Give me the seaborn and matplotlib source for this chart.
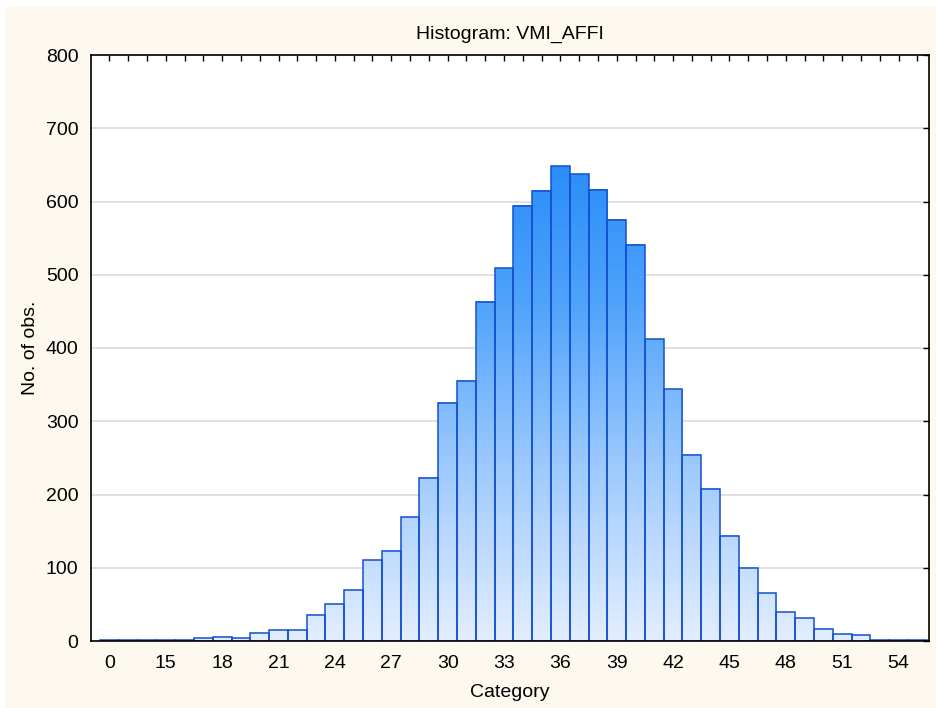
import numpy as np
import pandas as pd
import seaborn as sns
import matplotlib.pyplot as plt
from matplotlib.colors import LinearSegmentedColormap
from matplotlib.patches import Rectangle

# --- data ---
categories = ["0"] + [str(v) for v in range(13, 56)]
counts = [2, 1, 1, 1, 2, 4, 6, 4, 11, 15, 15, 36, 51, 70, 110, 123, 169, 223,
          325, 355, 463, 509, 594, 615, 648, 637, 616, 575, 541, 412, 344,
          254, 208, 144, 99, 65, 39, 31, 17, 9, 8, 2, 1, 2]
shown_labels = ["0", "15", "18", "21", "24", "27", "30", "33", "36", "39",
                "42", "45", "48", "51", "54"]

df = pd.DataFrame({"Category": categories, "Count": counts})

sns.set_style("white")
plt.rcParams['font.family'] = ['Liberation Sans', 'DejaVu Sans']
plt.rcParams['font.size'] = 14
plt.rcParams['text.color'] = "black"
plt.rcParams['axes.labelcolor'] = "black"
plt.rcParams['xtick.color'] = "black"
plt.rcParams['ytick.color'] = "black"

fig = plt.figure(figsize=(9.37, 7.08), dpi=100, facecolor="white")
# beige panel behind everything (white strip on top/left like the original)
bg = Rectangle((5 / 937, 0), 1, 1 - 7 / 708, transform=fig.transFigure,
               facecolor="#fdf9ee", edgecolor="none", zorder=-10)
fig.add_artist(bg)
ax = fig.add_axes([91 / 937, 67 / 708, 838 / 937, 586 / 708])
ax.set_zorder(1)
ax.set_facecolor("white")

sns.barplot(data=df, x="Category", y="Count", order=categories, width=1.0,
            color="#5aa8fc", edgecolor="#1450d0", linewidth=1.1, ax=ax, zorder=2)

# --- vertical gradient fill (colour depends on height, like the original) ---
cmap = LinearSegmentedColormap.from_list("blues", ["#e2eefd", "#9fcafd", "#4ea2fb", "#2088f7"])
for p in ax.patches:
    x0 = p.get_x()
    w = p.get_width()
    h = p.get_height()
    grad = np.linspace(0, h, 200).reshape(-1, 1)
    ax.imshow(grad, cmap=cmap, vmin=0, vmax=700, origin="lower", aspect="auto",
              extent=(x0, x0 + w, 0, h), zorder=1.8, interpolation="bilinear")
    p.set_facecolor("none")
    p.set_zorder(2.5)

ax.set_xlim(-0.98, len(categories) - 0.5 + 0.12)
ax.set_ylim(0, 800)
ax.set_yticks(range(0, 801, 100))
ax.yaxis.grid(True, color="#dcdcdc", linewidth=1.2, zorder=0)
ax.set_axisbelow(True)

ax.set_xticks(range(len(categories)))
ax.set_xticklabels([c if c in shown_labels else "" for c in categories])
ax.tick_params(axis="both", direction="in", length=4, width=1, color="black",
               top=True, right=True, labelsize=14)
ax.tick_params(axis="x", pad=10)
ax.tick_params(axis="y", pad=9)

for s in ax.spines.values():
    s.set_visible(True)
    s.set_color("black")
    s.set_linewidth(1.2)

ax.set_title("Histogram: VMI_AFFI", fontsize=14, pad=12)
ax.set_xlabel("Category", fontsize=14, labelpad=9)
ax.set_ylabel("No. of obs.", fontsize=14, labelpad=5)

fig.savefig("out.png", dpi=100, facecolor=fig.get_facecolor())
